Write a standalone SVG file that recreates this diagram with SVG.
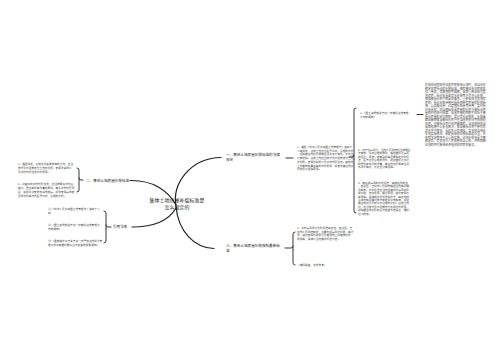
<svg xmlns="http://www.w3.org/2000/svg" width="500" height="360" viewBox="0 0 500 360">
<style>
text{font-family:"Noto Sans CJK SC","Noto Sans",sans-serif;}
.c{font-size:5px;fill:#222;text-anchor:middle;}
.l{font-size:3.6px;fill:#222;}
.t{font-size:2.7px;fill:#444;}
.w{font-size:2.9px;fill:#444;}
.k{fill:none;stroke:#222;stroke-width:1.2;stroke-linecap:round;}
.b{fill:none;stroke:#222;stroke-width:0.9;stroke-linecap:round;}
</style>
<rect width="500" height="360" fill="#fff"/>
<g id="connectors">
<path class="k" d="M130,180.5 C152,180 168,190 176,205"/>
<path class="k" d="M132,227 C152,227 168,222 176,208"/>
<path class="k" d="M176,206 C172,184 190,158 221,157.5"/>
<path class="k" d="M176,206 C178,232 195,248 214,248.5"/>
<path class="b" d="M83,180 L81,180 Q79,180 79,178 L79,170 Q79,168 77,168 M79,178 L79,190 Q79,192 77,192"/>
<path class="b" d="M111,227 L108,227 Q106,227 106,225 L106,213 Q106,211 104,211 M106,229 L106,241 Q106,243 104,243 M106,225 L106,229"/>
<path class="b" d="M286,158 L293,158"/>
<path class="b" d="M349,157 L352,157 Q354,157 354,155 L354,110 Q354,108 356,108 M354,159 L354,211 Q354,213 356,213 M354,155 L354,159"/>
<path class="b" d="M417,114.5 L423,114.5"/>
<path class="b" d="M285,248 L291,248 Q293,248 293,246 L293,234 Q293,232 295,232 M293,250 L293,263 Q293,265 295,265 M293,246 L293,250"/>
</g>
<g id="center">
<text class="c" x="177" y="202">集体土地房屋补偿标准是</text>
<text class="c" x="177" y="209">怎么规定的</text>
</g>
<g id="n-left-top">
<text class="l" x="86" y="181.5">二、集体土地房屋补偿标准</text>
</g>
<g id="n-left-top-1">
<text class="t" x="18" y="165">1、根据规定，征收农民集体所有的土地，应当</text>
<text class="t" x="18" y="169">依法及时足额支付土地补偿费、安置补助费以</text>
<text class="t" x="18" y="173">及农村村民住宅补偿费用。</text>
</g>
<g id="n-left-top-2">
<text class="t" x="18" y="184.5">2、对其中的农村村民住宅，应当按照先补偿后</text>
<text class="t" x="18" y="188.5">搬迁、居住条件有改善的原则，尊重农村村民意</text>
<text class="t" x="18" y="192.5">愿，采取重新安排宅基地建房、提供安置房或者</text>
<text class="t" x="18" y="196.5">货币补偿等方式给予公平、合理的补偿。</text>
</g>
<g id="n-law">
<text class="l" x="113" y="228.3">引用法条</text>
</g>
<g id="n-law-1">
<text class="t" x="48" y="210">[1]《中华人民共和国土地管理法》第四十八</text>
<text class="t" x="48" y="214">条</text>
</g>
<g id="n-law-2">
<text class="t" x="48" y="225.5">[2]《国土资源部关于进一步做好征地管理工</text>
<text class="t" x="48" y="229.5">作的通知》</text>
</g>
<g id="n-law-3">
<text class="t" x="48" y="241.5">[3]《国务院办公厅关于进一步严格征地拆迁管</text>
<text class="t" x="48" y="245.5">理工作切实维护群众合法权益的紧急通知》</text>
</g>
<g id="n-right-top">
<text class="l" x="226" y="156">一、集体土地房屋补偿标准的法律</text>
<text class="l" x="226" y="161">规定</text>
</g>
<g id="n-rt-text">
<text class="t" x="297" y="148">1、根据《中华人民共和国土地管理法》第四十</text>
<text class="t" x="297" y="151.7">八条规定，征收土地应当给予公平、合理的补偿</text>
<text class="t" x="297" y="155.4">，保障被征地农民原有生活水平不降低、长远生</text>
<text class="t" x="297" y="159.1">计有保障。征收土地应当依法及时足额支付土地</text>
<text class="t" x="297" y="162.8">补偿费、安置补助费以及农村村民住宅、其他地</text>
<text class="t" x="297" y="166.5">上附着物和青苗等的补偿费用，并安排被征地农</text>
<text class="t" x="297" y="170.2">民的社会保障费用。</text>
</g>
<g id="n-rt-1">
<text class="t" x="360" y="114">1、《国土资源部关于进一步做好征地管理</text>
<text class="t" x="360" y="117.6">工作的通知》</text>
</g>
<g id="n-rt-1-text">
<text class="w" x="425" y="86">在城市规划区外征收农民集体土地时，应当合理</text>
<text class="w" x="425" y="89.5">确定住房拆迁的补偿标准，按照被征收住房的区</text>
<text class="w" x="425" y="93">位、用途、建筑面积等因素，采取重新安排宅基</text>
<text class="w" x="425" y="96.5">地建房、拆迁安置或货币补偿等方式予以补偿，</text>
<text class="w" x="425" y="100">保障被拆迁农户的居住条件。重新安排宅基地建</text>
<text class="w" x="425" y="103.5">房的，拆迁补偿费用包括拆除原有房屋的补偿费</text>
<text class="w" x="425" y="107">用，以及搬迁费、过渡期补助费等费用；实行拆</text>
<text class="w" x="425" y="110.5">迁安置的，应当根据安置房屋的价值与被拆迁房</text>
<text class="w" x="425" y="114">屋的价值进行结算，安置房屋的面积不应低于被</text>
<text class="w" x="425" y="117.5">拆迁房屋的合法面积；实行货币补偿的，补偿金</text>
<text class="w" x="425" y="121">额应能够保证被拆迁农户在当地购买同等面积的</text>
<text class="w" x="425" y="124.5">住房。对被拆迁农户住房困难的，当地政府应当</text>
<text class="w" x="425" y="128">采取措施予以妥善解决，保证被拆迁农户原有生</text>
<text class="w" x="425" y="131.5">活水平不降低，长远生计有保障。各地应当结合</text>
<text class="w" x="425" y="135">本地实际情况，制定具体的补偿标准和办法，并</text>
<text class="w" x="425" y="138.5">依照法定程序予以公布实施。征地补偿安置方案</text>
<text class="w" x="425" y="142">确定后，有关地方人民政府应当公告，并听取被</text>
<text class="w" x="425" y="145.5">征地的农村集体经济组织和农民的意见。</text>
</g>
<g id="n-rt-2">
<text class="t" x="358" y="151">2、对于住房拆迁，当地人民政府应当按照合</text>
<text class="t" x="358" y="154.4">法有效、公平合理的原则，根据被拆迁房屋</text>
<text class="t" x="358" y="157.8">的区位、用途、建筑面积等因素确定补偿标</text>
<text class="t" x="358" y="161.2">准，给予农民合理的补偿，保证被拆迁农户</text>
<text class="t" x="358" y="164.6">的居住条件得到改善，被征地农民原有生活</text>
<text class="t" x="358" y="168">水平不降低，长远生计有保障。</text>
</g>
<g id="n-rt-3">
<text class="t" x="358" y="184">3、被征收房屋的补偿标准，由所在地的省</text>
<text class="t" x="358" y="187.4">、自治区、直辖市人民政府根据当地实际情</text>
<text class="t" x="358" y="190.8">况制定。补偿标准应当包括被拆除房屋的重</text>
<text class="t" x="358" y="194.2">置价格、装修费用、搬迁费用、临时安置补</text>
<text class="t" x="358" y="197.6">助费等。具体的补偿标准和办法，由各地结</text>
<text class="t" x="358" y="201">合本地实际情况依法制定并公布实施，保证</text>
<text class="t" x="358" y="204.4">被征地农民得到公平合理的补偿。征收土地</text>
<text class="t" x="358" y="207.8">时，应当依法及时足额支付各项补偿费用，</text>
<text class="t" x="358" y="211.2">保障被征地农民的合法权益不受侵害，维护</text>
<text class="t" x="358" y="214.6">社会稳定。</text>
</g>
<g id="n-right-bottom">
<text class="l" x="226" y="247">三、集体土地房屋补偿按照最新标</text>
<text class="l" x="226" y="252">准</text>
</g>
<g id="n-rb-1">
<text class="t" x="297" y="229">1、农村房屋拆迁补偿标准由各省、自治区、直</text>
<text class="t" x="297" y="232.5">辖市人民政府制定，主要包括房屋补偿费、搬迁</text>
<text class="t" x="297" y="236">费、临时安置补助费以及其他地上附着物补偿</text>
<text class="t" x="297" y="239.5">费用等，具体以当地最新标准为准。</text>
</g>
<g id="n-rb-2">
<text class="t" x="297" y="266">（律师解答，仅供参考）</text>
</g>
</svg>
